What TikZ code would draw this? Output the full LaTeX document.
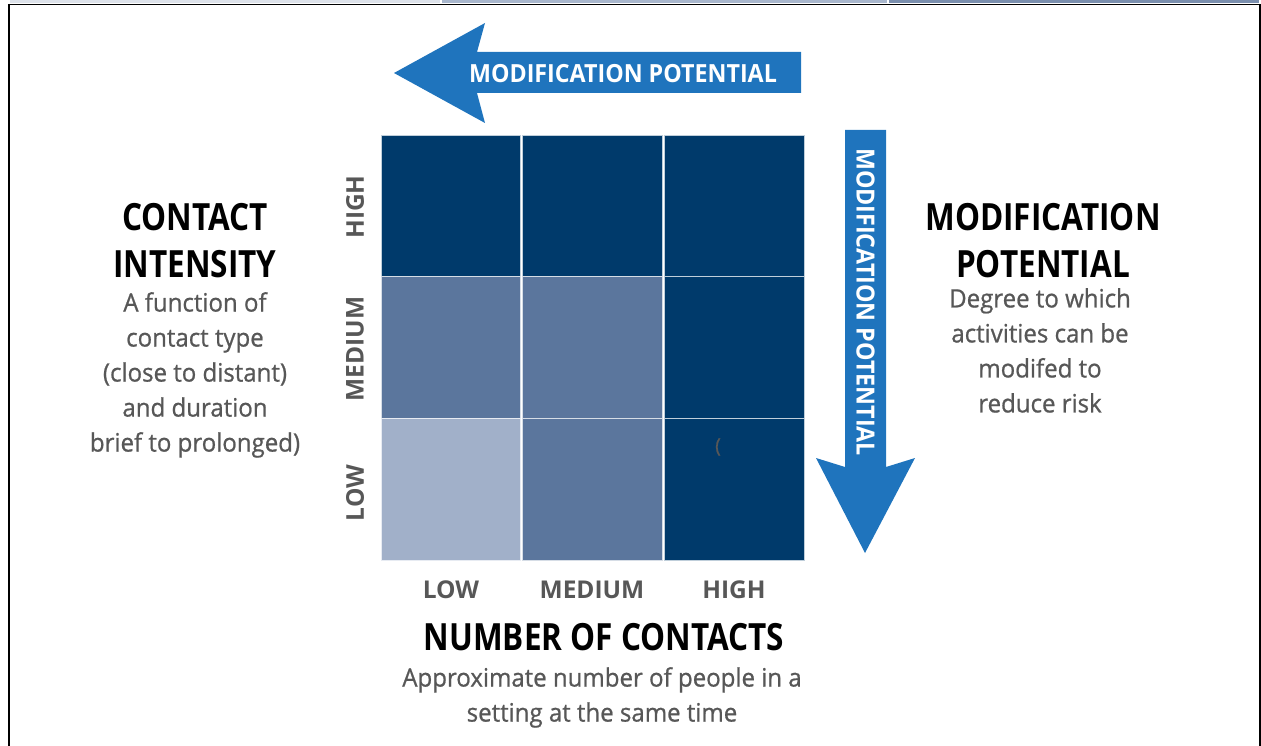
\documentclass[tikz,border=0pt]{standalone}
\usepackage{fontspec}
\setmainfont{Open Sans}
\newfontfamily\headfont{Open Sans}[FakeStretch=0.84]
\newfontfamily\arrowfont{Open Sans}[FakeStretch=0.93]
\newfontfamily\levelfont{Open Sans}
\newfontfamily\bodyfont{Open Sans}[FakeStretch=0.95, FakeBold=0.8]
\definecolor{navy}{HTML}{003A6B}
\definecolor{midblue}{HTML}{5B769D}
\definecolor{paleblue}{HTML}{A1B0C9}
\definecolor{arrowblue}{HTML}{1F74BD}
\definecolor{txtgray}{HTML}{575757}
\definecolor{stripA}{HTML}{DDE2EA}
\definecolor{stripB}{HTML}{A9B7CD}
\definecolor{stripC}{HTML}{7B8FAE}
\begin{document}
\begin{tikzpicture}[x=1pt,y=-1pt,
  cell/.style={fill=#1, draw=white!75!#1, line width=0.6pt, minimum width=139.7pt,
    minimum height=141.7pt, inner sep=0pt, outer sep=0pt},
  title/.style={font=\headfont\bfseries\fontsize{37.5}{47}\selectfont, text=black,
    align=center, inner sep=0pt},
  body/.style={font=\bodyfont\fontsize{25.3}{35}\selectfont, text=txtgray,
    align=center, inner sep=0pt},
  level/.style={font=\levelfont\bfseries\fontsize{24.5}{28}\selectfont, text=txtgray,
    inner sep=0pt},
  arrowtext/.style={font=\arrowfont\bfseries\fontsize{25}{28}\selectfont, text=white,
    inner sep=0pt}]
\path[use as bounding box] (0,0) rectangle (1261,746);

% frame of the surrounding table
\fill[stripA] (10,0) rectangle (441,3.5);
\fill[stripB] (441,0) rectangle (888,3.5);
\fill[stripC] (888,0) rectangle (1259,3.5);
\draw[line width=1.6pt] (9,4.6) -- (1260,4.6);
\draw[line width=2pt] (9,3.8) -- (9,746);
\draw[line width=2pt] (1260,3.8) -- (1260,746);
\draw[white, line width=2pt] (441,0) -- (441,3.5) (888,0) -- (888,3.5);

% 3x3 grid
\node[cell=navy]     (hl) at (450.8,205.8) {};
\node[cell=navy]     (hm) at (592.5,205.8) {};
\node[cell=navy]     (hh) at (734.2,205.8) {};
\node[cell=midblue]  (ml) at (450.8,347.5) {};
\node[cell=midblue]  (mm) at (592.5,347.5) {};
\node[cell=navy]     (mh) at (734.2,347.5) {};
\node[cell=paleblue] (ll) at (450.8,489.2) {};
\node[cell=midblue]  (lm) at (592.5,489.2) {};
\node[cell=navy]     (lh) at (734.2,489.2) {};
\node[font=\bodyfont\fontsize{20}{22}\selectfont, text=txtgray, inner sep=0pt] (paren) at (718,447) {(};

% row labels
\node[level, rotate=90] (rowhigh) at (355,207) {HIGH};
\node[level, rotate=90] (rowmed)  at (355,349) {MEDIUM};
\node[level, rotate=90] (rowlow)  at (355,493) {LOW};
% column labels
\node[level] (collow)  at (451,590) {LOW};
\node[level] (colmed)  at (592,590) {MEDIUM};
\node[level] (colhigh) at (734,590) {HIGH};

% horizontal arrow
\fill[arrowblue] (394,73) -- (485,23) -- (477,52) -- (801,52) -- (801,93)
  -- (477,93) -- (485,123) -- cycle;
\node[arrowtext] (harrow) at (623,74) {MODIFICATION POTENTIAL};

% vertical arrow
\fill[arrowblue] (845,130) -- (886,130) -- (886,467) -- (915,458) -- (865,553)
  -- (816,458) -- (845,467) -- cycle;
\node[arrowtext, rotate=-90] (varrow) at (865.5,302) {MODIFICATION POTENTIAL};

% left description
\node[title] (cititle) at (195,241) {CONTACT\\INTENSITY};
\node[body, anchor=north] (cibody) at (195,292) {A function of\\contact type\\(close to distant)\\and duration\\brief to prolonged)};

% right description
\node[title] (mptitle) at (1043,241) {MODIFICATION\\POTENTIAL};
\node[body, anchor=north] (mpbody) at (1040,288) {Degree to which\\activities can be\\modifed to\\reduce risk};

% bottom description
\node[title] (nctitle) at (604,637) {NUMBER OF CONTACTS};
\node[body, anchor=north] (ncbody) at (602,667) {Approximate number of people in a\\setting at the same time};
\end{tikzpicture}
\end{document}
